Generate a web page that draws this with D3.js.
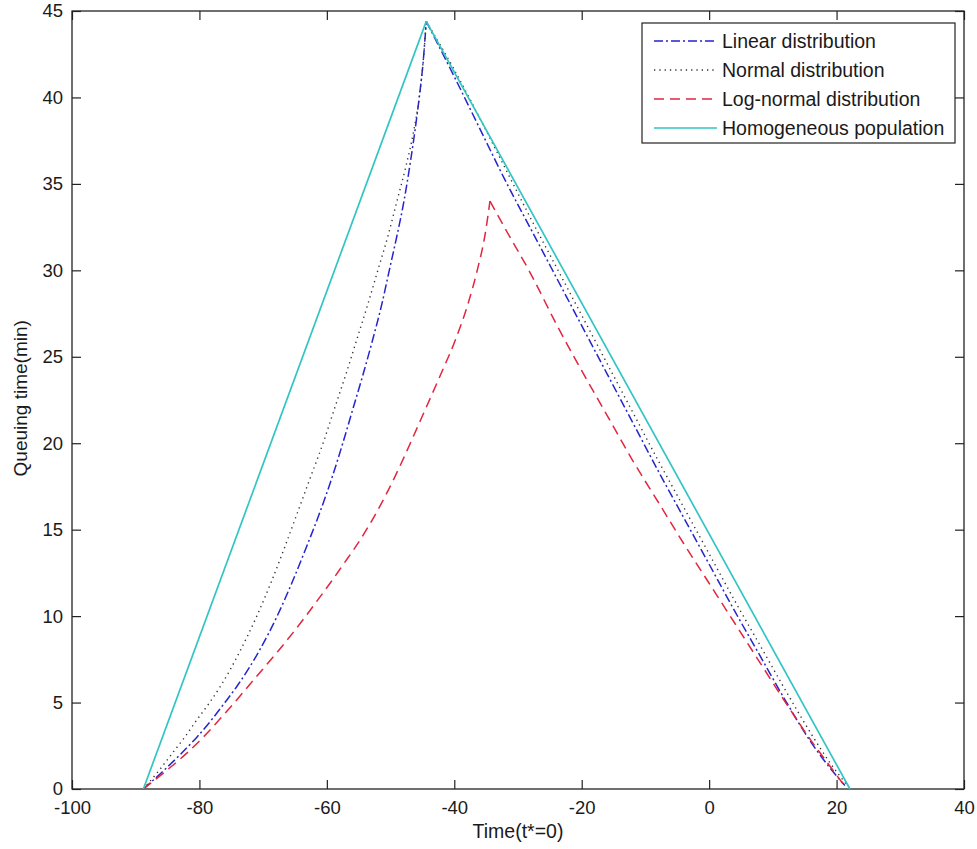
<!DOCTYPE html>
<html>
<head>
<meta charset="utf-8">
<script src="https://cdn.jsdelivr.net/npm/d3@7"></script>
<style>
  html, body { margin: 0; padding: 0; background: #fff; }
  svg { display: block; font-family: "Liberation Sans", Arial, sans-serif; }
</style>
</head>
<body>
<svg id="chart" width="977" height="849"></svg>
<script>
// Axis ticks
const xTicks = [-100, -80, -60, -40, -20, 0, 20, 40];
const yTicks = [0, 5, 10, 15, 20, 25, 30, 35, 40, 45];

// Series names (legend order)
const seriesNames = ["Linear distribution", "Normal distribution", "Log-normal distribution", "Homogeneous population"];

// Linear distribution: time (x) and queuing time (y); build-up then discharge
const linearX = [-88.8, -85.8, -83.0, -80.4, -78.1, -76.0, -74.0, -70.6, -67.8, -65.4, -63.2, -61.1, -59.2, -57.5, -55.9, -54.3, -52.8, -51.4, -50.2, -49.0, -47.9, -47.0, -46.2, -45.5, -44.9, -44.4,
                 -40, -36, -32, -28, -24, -20, -16, -12, -8, -4, 0, 4, 8, 12, 16, 19, 21.3];
const linearY = [0, 1, 2, 3, 4, 5, 6, 8, 10, 12, 14, 16, 18, 20, 22, 24, 26, 28, 30, 32, 34, 36, 38, 40, 42, 44.4,
                 41.2, 38.2, 35.2, 32.4, 29.6, 26.8, 24.0, 21.2, 18.4, 15.7, 13.0, 10.3, 7.7, 5.1, 2.7, 1.2, 0.2];

// Normal distribution
const normalX = [-88.8, -86.5, -84.4, -82.3, -80.4, -78.4, -76.6, -73.6, -71.0, -68.7, -66.6, -64.6, -62.6, -60.6, -58.8, -57.0, -55.3, -53.6, -52.0, -50.4, -49.0, -47.6, -46.4, -45.5, -44.9, -44.4,
                 -40, -36, -32, -28, -24, -20, -16, -12, -8, -4, 0, 4, 8, 12, 16, 19, 21.7];
const normalY = [0, 1, 2, 3, 4, 5, 6, 8, 10, 12, 14, 16, 18, 20, 22, 24, 26, 28, 30, 32, 34, 36, 38, 40, 42, 44.4,
                 41.6, 38.8, 35.9, 33.0, 30.2, 27.4, 24.6, 21.8, 19.0, 16.3, 13.6, 10.9, 8.3, 5.7, 3.2, 1.5, 0.2];

// Log-normal distribution
const lognormX = [-88.8, -85.4, -82.2, -79.4, -76.9, -74.5, -72.2, -69.9, -67.6, -65.4, -63.3, -61.3, -59.3, -57.4, -55.5, -52.2, -49.4, -46.9, -44.5, -42.1, -39.8, -37.9, -36.4, -35.2, -34.4,
                  -32, -28, -24, -20, -16, -12, -8, -4, 0, 4, 8, 12, 16, 19, 21.0];
const lognormY = [0, 1, 2, 3, 4, 5, 6, 7, 8, 9, 10, 11, 12, 13, 14, 16, 18, 20, 22, 24, 26, 28, 30, 32, 34.0,
                  32.4, 29.8, 26.9, 24.2, 21.6, 19.0, 16.6, 14.2, 11.9, 9.6, 7.3, 5.0, 2.8, 1.3, 0.3];

// Homogeneous population
const homogX = [-88.8, -44.4, 22.1];
const homogY = [0, 44.4, 0];

const W = 977, H = 849;
const margin = { left: 72, right: 13, top: 11, bottom: 60 };
const innerW = W - margin.left - margin.right;
const innerH = H - margin.top - margin.bottom;

const svg = d3.select("#chart");
const g = svg.append("g").attr("transform", `translate(${margin.left},${margin.top})`);

const x = d3.scaleLinear().domain([-100, 40]).range([0, innerW]);
const y = d3.scaleLinear().domain([0, 45]).range([innerH, 0]);

const tickLen = 9;
const axisColor = "#222";
const tickFont = 18.5;
const fmt = d => String(d);   // plain hyphen for negatives

function styleAxis(sel) {
  sel.select(".domain").remove();
  sel.selectAll(".tick line").attr("stroke", axisColor).attr("stroke-width", 1.2);
  sel.selectAll(".tick text").attr("fill", "#1a1a1a").style("font-size", tickFont + "px")
     .style("font-family", '"Liberation Sans", Arial, sans-serif');
}

// Bottom and left axes with inward ticks
g.append("g").attr("transform", `translate(0,${innerH})`)
  .call(d3.axisBottom(x).tickValues(xTicks).tickFormat(fmt).tickSize(-tickLen).tickSizeOuter(0).tickPadding(12))
  .call(styleAxis);
g.append("g")
  .call(d3.axisLeft(y).tickValues(yTicks).tickFormat(fmt).tickSize(-tickLen).tickSizeOuter(0).tickPadding(9))
  .call(styleAxis);
// Mirrored ticks on top and right
g.append("g")
  .call(d3.axisTop(x).tickValues(xTicks).tickFormat("").tickSize(-tickLen).tickSizeOuter(0))
  .call(styleAxis);
g.append("g").attr("transform", `translate(${innerW},0)`)
  .call(d3.axisRight(y).tickValues(yTicks).tickFormat("").tickSize(-tickLen).tickSizeOuter(0))
  .call(styleAxis);

// Plot box
g.append("rect").attr("x", 0).attr("y", 0).attr("width", innerW).attr("height", innerH)
  .attr("fill", "none").attr("stroke", axisColor).attr("stroke-width", 1.3);

const zip = (xs, ys) => xs.map((v, i) => [v, ys[i]]);
// Smooth each branch separately so the peak stays a sharp cusp
const branchLine = d3.line().x(d => x(d[0])).y(d => y(d[1])).curve(d3.curveMonotoneX);
const straightLine = d3.line().x(d => x(d[0])).y(d => y(d[1]));

const styles = [
  { color: "#2525cc", dash: "9,3,2,3", width: 1.5 },
  { color: "#333333", dash: "1.3,4", width: 1.4 },
  { color: "#e2263f", dash: "10,6", width: 1.5 },
  { color: "#33c4c4", dash: null, width: 1.7 }
];
const seriesData = [zip(linearX, linearY), zip(normalX, normalY), zip(lognormX, lognormY), zip(homogX, homogY)];

seriesData.forEach((data, i) => {
  const peak = d3.maxIndex(data, d => d[1]);
  const branches = [data.slice(0, peak + 1), data.slice(peak)];
  branches.forEach(b => {
    g.append("path").datum(b)
      .attr("d", i === 3 ? straightLine : branchLine)
      .attr("fill", "none")
      .attr("stroke", styles[i].color)
      .attr("stroke-width", styles[i].width)
      .attr("stroke-dasharray", styles[i].dash)
      .attr("stroke-linejoin", "round");
  });
});

// Axis titles
svg.append("text")
  .attr("x", margin.left + x(-30))
  .attr("y", 838)
  .attr("text-anchor", "middle")
  .attr("fill", "#1a1a1a")
  .style("font-size", "19.5px")
  .text("Time(t*=0)");
svg.append("text")
  .attr("transform", `translate(27,${margin.top + y(22.6)}) rotate(-90)`)
  .attr("text-anchor", "middle")
  .attr("fill", "#1a1a1a")
  .style("font-size", "19px")
  .text("Queuing time(min)");

// Legend
const lg = svg.append("g").attr("transform", "translate(642,23)");
lg.append("rect").attr("width", 313).attr("height", 120)
  .attr("fill", "#fff").attr("stroke", axisColor).attr("stroke-width", 1.2);
seriesNames.forEach((name, i) => {
  const cy = 18 + i * 29;
  lg.append("line").attr("x1", 12).attr("x2", 75).attr("y1", cy).attr("y2", cy)
    .attr("stroke", styles[i].color).attr("stroke-width", styles[i].width)
    .attr("stroke-dasharray", styles[i].dash);
  lg.append("text").attr("x", 80).attr("y", cy).attr("dy", "0.35em")
    .attr("fill", "#1a1a1a").style("font-size", "19.5px").text(name);
});
</script>
</body>
</html>
